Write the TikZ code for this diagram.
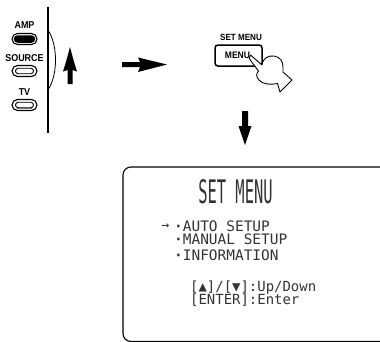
\documentclass[tikz,border=0pt]{standalone}
\usepackage{fontspec}
\setmainfont{Liberation Sans}
\newfontfamily\lblfont[FakeStretch=0.9]{Liberation Sans}
\newfontfamily\lcdfont{DejaVu Sans Mono}
\usetikzlibrary{shapes.misc}

\begin{document}
\begin{tikzpicture}[x=1bp,y=-1bp,
  lbl/.style={font=\lblfont\bfseries\fontsize{10}{10}\selectfont, inner sep=0pt},
  btnout/.style={rounded rectangle, minimum width=25bp, minimum height=11bp,
                 inner sep=0pt, draw, line width=1.1bp},
  btnin/.style={rounded rectangle, minimum width=18bp, minimum height=5.5bp,
                inner sep=0pt, draw, line width=0.9bp},
  lcd/.style={font=\lcdfont\fontsize{14.5}{14.5}\selectfont, text=black!80,
              inner sep=0pt, anchor=base west, text height=9bp, text depth=1bp},
  lcdhelp/.style={lcd, font=\lcdfont\fontsize{14}{14}\selectfont},
  arrowfill/.style={fill=black},
  panel/.style={draw, line width=1.1bp, rounded corners=8bp}]

\useasboundingbox (0,0) rectangle (380,342);
\clip (0,0) rectangle (380,342);

% ---- remote control edge with its three selector buttons ----
\draw[line width=2bp] (48,7) -- (48,133);
\draw[line width=0.8bp] (48,30) .. controls (58,45) and (58,75) .. (48,90);

\node[lbl] (amp) at (24.5,25) {AMP};
\node[btnout] (ampbtn) at (24.5,39) {};
\node[rounded rectangle, minimum width=21.5bp, minimum height=7.5bp,
      inner sep=0pt, fill=black] (ampin) at (ampbtn.center) {};

\node[lbl] (src) at (24.5,58) {SOURCE};
\node[btnout] (srcbtn) at (24.5,71) {};
\node[btnin] (srcin) at (srcbtn.center) {};

\node[lbl] (tv) at (24.5,92.5) {TV};
\node[btnout] (tvbtn) at (24.5,105) {};
\node[btnin] (tvin) at (tvbtn.center) {};
\draw[black!55, line width=1.6bp, line cap=round]
  ([xshift=-7bp,yshift=-0.3bp]tvin.south) -- ([xshift=7bp,yshift=-0.3bp]tvin.south);

% ---- upward arrow beside the remote ----
\fill[arrowfill] (67.5,84) -- (67.5,70) -- (63,71.5)
  .. controls (66,62) .. (70,47) .. controls (74,62) .. (77,71.5)
  -- (72.5,70) -- (72.5,84) -- cycle;

% ---- arrow to the MENU key ----
\fill[arrowfill] (122,62) -- (140,62) -- (138,57.5)
  .. controls (152,61) .. (167,64.5) .. controls (152,68) .. (138,72)
  -- (140,67) -- (122,67) -- cycle;

% ---- MENU key pressed by a finger ----
\node[lbl, font=\lblfont\bfseries\fontsize{9}{9}\selectfont] (setmenu) at (241,37) {SET MENU};
\draw[line width=1.5bp, rounded corners=3bp] (215,45) rectangle (262,66);
\node[lbl, font=\lblfont\bfseries\fontsize{9.5}{9.5}\selectfont] (menu) at (237.5,55.5) {MENU};

\draw[fill=white, line width=0.9bp, line join=round]
  (250.5,55) -- (262,65)
  .. controls (263,58) and (268,55.5) .. (274,56)
  .. controls (280,57) and (283,61) .. (283,67)
  -- (283,72) -- (292,80) -- (280,92) -- (277.5,83.5)
  .. controls (270,85) and (262,84) .. (259,80)
  .. controls (256,77) and (256,73.5) .. (258.5,71)
  -- (251,61)
  .. controls (249,60) and (248.5,56.5) .. (250.5,55) -- cycle;

% ---- downward arrow to the display ----
\fill[arrowfill] (242,111) -- (248,111) -- (248,126) -- (251.5,126)
  .. controls (248,135) .. (245,145) .. controls (242,135) .. (238.5,126)
  -- (242,126) -- cycle;

% ---- on-screen display ----
\draw[panel] (123,167) rectangle (400,341.5);

\node[font=\lcdfont\fontsize{15.5}{15.5}\selectfont, text=black!80, inner sep=0pt]
  (title) at (235.5,192) {\scalebox{1}[2.1]{SET MENU}};

\node[font=\lcdfont\fontsize{13}{13}\selectfont, text=black!80, inner sep=0pt]
  (cursor) at (165.5,227) {→};
\node[lcd] (item1) at (174,231.7) {{\bfseries ·}AUTO SETUP};
\node[lcd] (item2) at (174,244.5) {{\bfseries ·}MANUAL SETUP};
\node[lcd] (item3) at (174,260) {{\bfseries ·}INFORMATION};

\node[lcdhelp] (help1) at (190,291) {[▲]/[▼]:Up/Down};
\node[lcdhelp] (help2) at (190,304) {[ENTER]:Enter};

\end{tikzpicture}
\end{document}
